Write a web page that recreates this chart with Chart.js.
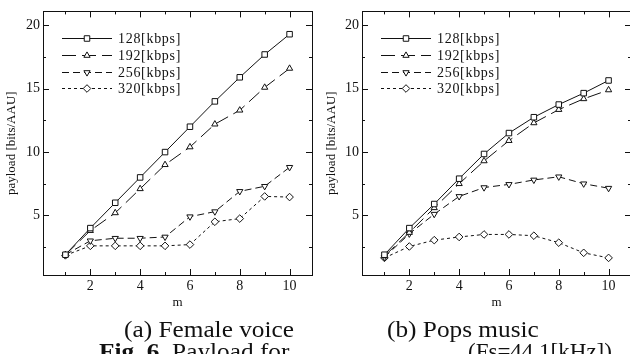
<!DOCTYPE html>
<html>
<head>
<meta charset="utf-8">
<script src="https://cdn.jsdelivr.net/npm/chart.js"></script>
<style>
  html, body {
    margin: 0;
    padding: 0;
    width: 630px;
    height: 354px;
    overflow: hidden;
    background: #fff;
  }
  canvas {
    position: absolute;
    top: 0;
  }
  #female { left: 0; }
  #pops { left: 320px; }
  .caption {
    position: absolute;
    font-family: "Liberation Serif", "Times New Roman", serif;
    font-size: 23px;
    line-height: 23px;
    color: #111;
    white-space: nowrap;
    transform-origin: left top;
    transform: scaleX(1.1);
  }
</style>
</head>
<body>
<canvas id="female" width="320" height="320"></canvas>
<canvas id="pops" width="320" height="320"></canvas>
<div class="caption" style="left:124px; top:318px">(a) Female voice</div>
<div class="caption" style="left:387px; top:318px">(b) Pops music</div>
<div class="caption" style="left:99px; top:340px"><b>Fig. 6.</b> Payload for</div>
<div class="caption" style="left:468px; top:340px; transform:none">(Fs=44.1[kHz])</div>
<script>
const mValues = [1, 2, 3, 4, 5, 6, 7, 8, 9, 10]
const bitrateLabels = ['128[kbps]', '192[kbps]', '256[kbps]', '320[kbps]']

// payload [bits/AAU], female voice
const female128 = [1.9, 4.0, 6.0, 8.0, 10.0, 12.0, 14.0, 15.9, 17.7, 19.3]
const female192 = [1.9, 3.8, 5.2, 7.1, 9.0, 10.4, 12.2, 13.3, 15.1, 16.6]
const female256 = [1.9, 3.0, 3.2, 3.2, 3.3, 4.9, 5.3, 6.9, 7.3, 8.8]
const female320 = [1.85, 2.6, 2.6, 2.6, 2.6, 2.7, 4.5, 4.75, 6.5, 6.45]

// payload [bits/AAU], pops music
const pops128 = [1.9, 4.0, 5.9, 7.9, 9.85, 11.5, 12.75, 13.75, 14.65, 15.65]
const pops192 = [1.8, 3.65, 5.6, 7.5, 9.3, 10.9, 12.3, 13.35, 14.2, 14.9]
const pops256 = [1.7, 3.55, 5.1, 6.5, 7.2, 7.45, 7.8, 8.05, 7.5, 7.15]
const pops320 = [1.65, 2.55, 3.05, 3.3, 3.5, 3.5, 3.4, 2.85, 2.05, 1.65]

const xTickValues = [2, 4, 6, 8, 10]
const xMinorTicks = [1, 3, 5, 7, 9]
const yTickValues = [5, 10, 15, 20]
const yMinorTicks = [2.5, 7.5, 12.5, 17.5]

const INK = '#111'
const SERIF = '"Liberation Serif", "Times New Roman", serif'

const seriesStyles = [
    { borderDash: [], pointStyle: 'rect', pointRadius: 3.9, pointRotation: 0 },
    { borderDash: [14, 6], pointStyle: 'triangle', pointRadius: 3.6, pointRotation: 0 },
    { borderDash: [7, 4], pointStyle: 'triangle', pointRadius: 3.6, pointRotation: 180 },
    { borderDash: [3, 3], pointStyle: 'rectRot', pointRadius: 3.8, pointRotation: 0 },
]

function toPoints(values) {
    return values.map((y, i) => ({ x: mValues[i], y }))
}

function buildDatasets(seriesList) {
    return seriesList.map((values, i) => ({
        label: bitrateLabels[i],
        data: toPoints(values),
        borderColor: INK,
        borderWidth: 1,
        borderDash: seriesStyles[i].borderDash,
        pointStyle: seriesStyles[i].pointStyle,
        pointRadius: seriesStyles[i].pointRadius,
        pointRotation: seriesStyles[i].pointRotation,
        pointBorderColor: INK,
        pointBorderWidth: 1,
        pointBackgroundColor: '#fff',
        tension: 0,
        fill: false,
    }))
}

// Box around the plot area with short inward ticks on all four sides
const framePlugin = {
    id: 'frame',
    afterDraw(chart) {
        const { ctx, chartArea: a, scales } = chart
        ctx.save()
        ctx.strokeStyle = INK
        ctx.lineWidth = 1
        ctx.strokeRect(Math.round(a.left) + 0.5, Math.round(a.top) + 0.5,
            Math.round(a.right - a.left), Math.round(a.bottom - a.top))

        ctx.beginPath()
        const xTick = (v, len) => {
            const px = Math.round(scales.x.getPixelForValue(v)) + 0.5
            ctx.moveTo(px, a.bottom)
            ctx.lineTo(px, a.bottom - len)
            ctx.moveTo(px, a.top)
            ctx.lineTo(px, a.top + len)
        }
        const yTick = (v, len) => {
            const py = Math.round(scales.y.getPixelForValue(v)) + 0.5
            ctx.moveTo(a.left, py)
            ctx.lineTo(a.left + len, py)
            ctx.moveTo(a.right, py)
            ctx.lineTo(a.right - len, py)
        }
        xTickValues.forEach(v => xTick(v, 6))
        xMinorTicks.forEach(v => xTick(v, 3))
        yTickValues.forEach(v => yTick(v, 6))
        yMinorTicks.forEach(v => yTick(v, 3))
        ctx.stroke()
        ctx.restore()
    },
}

// Legend drawn inside the plot: line sample in each dash style, marker, label
const lineLegendPlugin = {
    id: 'lineLegend',
    afterDraw(chart) {
        const { ctx, chartArea: a } = chart
        const rowY = [38, 55, 72, 88]
        ctx.save()
        chart.data.datasets.forEach((ds, i) => {
            const y = rowY[i] + 0.5
            const x0 = a.left + 19
            const x1 = a.left + 69
            ctx.strokeStyle = INK
            ctx.lineWidth = 1
            ctx.setLineDash(ds.borderDash)
            ctx.beginPath()
            ctx.moveTo(x0, y)
            ctx.lineTo(x1, y)
            ctx.stroke()
            ctx.setLineDash([])
            ctx.fillStyle = '#fff'
            Chart.helpers.drawPoint(ctx, {
                pointStyle: ds.pointStyle,
                radius: ds.pointRadius,
                rotation: ds.pointRotation,
                borderWidth: 1,
            }, (x0 + x1) / 2, y)
            ctx.fillStyle = INK
            ctx.font = '14px ' + SERIF
            ctx.letterSpacing = '0.7px'
            ctx.textBaseline = 'middle'
            ctx.fillText(ds.label, a.left + 75, y + 1)
        })
        ctx.restore()
    },
}

function makeChart(canvasId, seriesList, yAxisWidth, rightPad) {
    return new Chart(document.getElementById(canvasId), {
        type: 'line',
        data: { datasets: buildDatasets(seriesList) },
        plugins: [framePlugin, lineLegendPlugin],
        options: {
            responsive: false,
            animation: false,
            layout: {
                padding: { top: 5, right: rightPad, bottom: 0, left: 0 },
            },
            plugins: {
                legend: { display: false },
                tooltip: { enabled: false },
            },
            scales: {
                x: {
                    type: 'linear',
                    min: 0.1,
                    max: 10.9,
                    grid: { display: false, drawTicks: false },
                    border: { display: false },
                    afterBuildTicks: scale => {
                        scale.ticks = xTickValues.map(value => ({ value }))
                    },
                    afterFit: scale => {
                        scale.height = 45
                    },
                    ticks: {
                        color: INK,
                        padding: 3,
                        maxRotation: 0,
                        font: { family: SERIF, size: 14 },
                    },
                    title: {
                        display: true,
                        text: 'm',
                        color: INK,
                        padding: { top: 0, bottom: 10 },
                        font: { family: SERIF, size: 13 },
                    },
                },
                y: {
                    type: 'linear',
                    min: 0.3,
                    max: 21.1,
                    grid: { display: false, drawTicks: false },
                    border: { display: false },
                    afterBuildTicks: scale => {
                        scale.ticks = yTickValues.map(value => ({ value }))
                    },
                    afterFit: scale => {
                        scale.width = yAxisWidth
                    },
                    ticks: {
                        color: INK,
                        padding: 3,
                        font: { family: SERIF, size: 14 },
                    },
                    title: {
                        display: true,
                        text: 'payload [bits/AAU]',
                        color: INK,
                        padding: { top: 4, bottom: 0 },
                        font: { family: SERIF, size: 13 },
                    },
                },
            },
        },
    })
}

makeChart('female', [female128, female192, female256, female320], 43, 8)
makeChart('pops', [pops128, pops192, pops256, pops320], 42, 9)
</script>
</body>
</html>
